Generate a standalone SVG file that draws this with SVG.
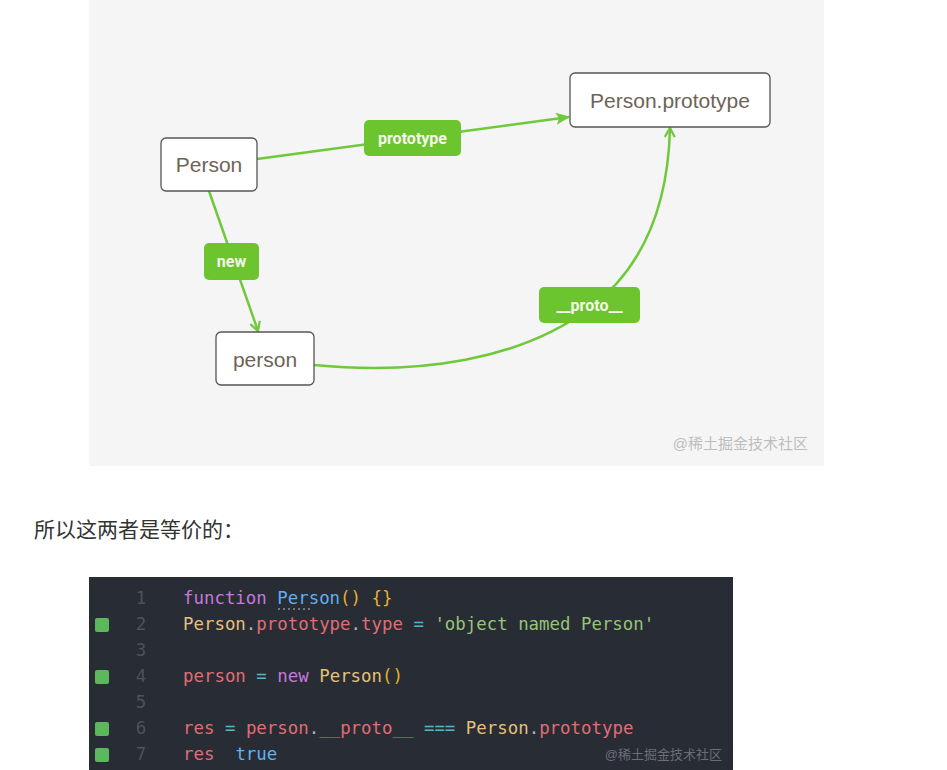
<svg xmlns="http://www.w3.org/2000/svg" width="947" height="770" viewBox="0 0 947 770">
<defs>
<style>
.node rect{fill:#fff;stroke:#555;stroke-width:1.3}
.node text{font-family:"Liberation Sans","Noto Sans",sans-serif;font-size:21px;fill:#6e6356;text-anchor:middle}
.lbl rect{fill:#6cc42f}
.lbl text{font-family:Roboto,"Liberation Sans",sans-serif;font-size:16px;font-weight:bold;fill:#f4f8e8;text-anchor:middle}
.edge{fill:none;stroke:#6fc93a;stroke-width:2.5}
.code{font-family:"DejaVu Sans Mono","Liberation Mono",monospace;font-size:17.4px}
.ln{fill:#4d525c;text-anchor:middle}
.pu{fill:#c678dd}.bl{fill:#61afef}.ye{fill:#e5c07b}.rd{fill:#e06c75}.cy{fill:#56b6c2}.gr{fill:#98c379}.wh{fill:#abb2bf}.or{fill:#e5b02f}
.mk{fill:#5cb85c}
</style>
<marker id="arr" viewBox="0 0 12 12" refX="10" refY="6" markerWidth="12" markerHeight="12" markerUnits="userSpaceOnUse" orient="auto">
<path d="M1,1 L10,6 L1,11" fill="none" stroke="#6fc93a" stroke-width="2.2"/>
</marker>
<marker id="arrf" viewBox="0 0 14 12" refX="13" refY="6" markerWidth="14" markerHeight="12" markerUnits="userSpaceOnUse" orient="auto">
<path d="M0,0 L14,6 L0,12 L3,6 Z" fill="#6fc93a"/>
</marker>
</defs>
<rect x="0" y="0" width="947" height="770" fill="#fff"/>
<rect x="89" y="0" width="735" height="466" fill="#f5f5f5"/>
<g id="connectors">
<path class="edge" d="M257,159 L569,117" marker-end="url(#arrf)"/>
<path class="edge" d="M209,191 L258,331" marker-end="url(#arr)"/>
<path class="edge" d="M314,365 C420,375 520,360 590,308 C640,270 668,210 670,128" marker-end="url(#arr)"/>
</g>
<g id="label-prototype" class="lbl"><rect x="364" y="120" width="97" height="36" rx="5"/><text x="412.5" y="144">prototype</text></g>
<g id="label-new" class="lbl"><rect x="204" y="243" width="55" height="37" rx="5"/><text x="231.5" y="267">new</text></g>
<g id="label-proto" class="lbl"><rect x="539" y="287" width="101" height="36" rx="5"/><text x="589.5" y="311">__proto__</text></g>
<g id="node-Person" class="node"><rect x="161" y="138" width="96" height="53" rx="5"/><text x="209" y="172">Person</text></g>
<g id="node-PersonPrototype" class="node"><rect x="570" y="73" width="200" height="54" rx="5"/><text x="670" y="108">Person.prototype</text></g>
<g id="node-person" class="node"><rect x="216" y="332" width="98" height="53" rx="5"/><text x="265" y="367">person</text></g>
<text x="808" y="449" text-anchor="end" font-family="Liberation Sans,'Noto Sans CJK SC',sans-serif" font-size="15" fill="#bdbdbd">@稀土掘金技术社区</text>
<text x="34" y="537" font-family="'Liberation Sans','Noto Sans CJK SC',sans-serif" font-size="21" fill="#333">所以这两者是等价的：</text>
<rect x="89" y="577" width="644" height="193" fill="#282c34"/>
<g class="code">
<text class="ln" x="141" y="604">1</text>
<text class="ln" x="141" y="630">2</text>
<text class="ln" x="141" y="656">3</text>
<text class="ln" x="141" y="682">4</text>
<text class="ln" x="141" y="708">5</text>
<text class="ln" x="141" y="734">6</text>
<text class="ln" x="141" y="760">7</text>
<rect class="mk" x="95" y="618" width="14" height="14" rx="2"/>
<rect class="mk" x="95" y="670" width="14" height="14" rx="2"/>
<rect class="mk" x="95" y="722" width="14" height="14" rx="2"/>
<rect class="mk" x="95" y="748" width="14" height="14" rx="2"/>
<text x="183" y="604" xml:space="preserve"><tspan class="pu">function</tspan> <tspan class="bl">Person</tspan><tspan class="or">()</tspan> <tspan class="or">{}</tspan></text>
<line x1="278" y1="609" x2="310" y2="609" stroke="#8a8f98" stroke-width="1.5" stroke-dasharray="2,3"/>
<text x="183" y="630" xml:space="preserve"><tspan class="ye">Person</tspan><tspan class="wh">.</tspan><tspan class="rd">prototype</tspan><tspan class="wh">.</tspan><tspan class="rd">type</tspan> <tspan class="cy">=</tspan> <tspan class="gr">'object named Person'</tspan></text>
<text x="183" y="682" xml:space="preserve"><tspan class="rd">person</tspan> <tspan class="cy">=</tspan> <tspan class="pu">new</tspan> <tspan class="ye">Person</tspan><tspan class="or">()</tspan></text>
<text x="183" y="734" xml:space="preserve"><tspan class="rd">res</tspan> <tspan class="cy">=</tspan> <tspan class="rd">person</tspan><tspan class="wh">.</tspan><tspan class="rd">__proto__</tspan> <tspan class="cy">===</tspan> <tspan class="ye">Person</tspan><tspan class="wh">.</tspan><tspan class="rd">prototype</tspan></text>
<text x="183" y="760" xml:space="preserve"><tspan class="rd">res</tspan>  <tspan class="bl">true</tspan></text>
</g>
<text x="722" y="759" text-anchor="end" font-family="Liberation Sans,'Noto Sans CJK SC',sans-serif" font-size="13" fill="#6a6e75">@稀土掘金技术社区</text>
</svg>
